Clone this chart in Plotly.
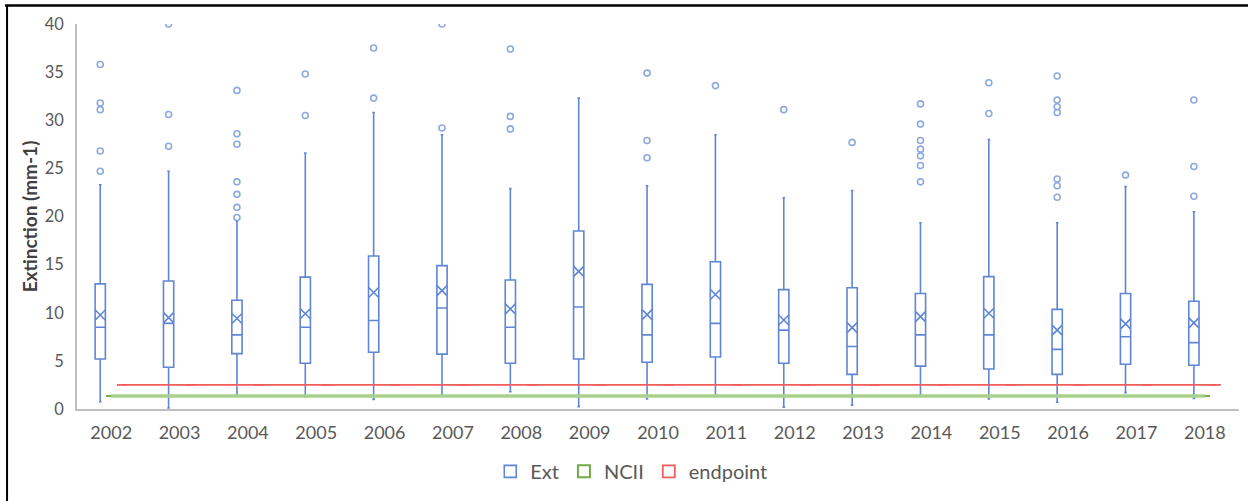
import plotly.graph_objects as go

years = [2002, 2003, 2004, 2005, 2006, 2007, 2008, 2009, 2010,
         2011, 2012, 2013, 2014, 2015, 2016, 2017, 2018]
q1 = [5.2, 4.33, 5.75, 4.75, 5.9, 5.7, 4.75, 5.2, 4.85,
      5.4, 4.75, 3.6, 4.45, 4.15, 3.6, 4.65, 4.55]
median = [8.5, 8.9, 7.7, 8.5, 9.2, 10.5, 8.5, 10.6, 7.7,
          8.9, 8.2, 6.5, 7.7, 7.7, 6.2, 7.5, 6.9]
q3 = [13.0, 13.3, 11.3, 13.7, 15.9, 14.9, 13.4, 18.5, 12.95,
      15.3, 12.4, 12.6, 12.0, 13.75, 10.35, 12.0, 11.2]
lower = [0.76, 0.1, 1.45, 1.28, 1.0, 1.45, 1.8, 0.25, 1.04,
         1.38, 0.2, 0.4, 1.45, 1.04, 0.7, 1.7, 1.1]
upper = [23.3, 24.7, 19.5, 26.6, 30.8, 28.5, 22.9, 32.3, 23.2,
         28.5, 21.95, 22.7, 19.35, 28.0, 19.35, 23.1, 20.5]
mean = [9.77, 9.5, 9.4, 9.9, 12.1, 12.3, 10.4, 14.3, 9.8,
        11.9, 9.25, 8.45, 9.6, 9.95, 8.2, 8.85, 8.95]
outliers = [
    [35.8, 31.8, 31.1, 26.8, 24.7],
    [40.0, 30.6, 27.3],
    [33.1, 28.6, 27.5, 23.6, 22.3, 20.95, 19.9],
    [34.8, 30.5],
    [37.5, 32.3],
    [40.0, 29.2],
    [37.4, 30.4, 29.1],
    [],
    [34.9, 27.9, 26.1],
    [33.6],
    [31.1],
    [27.7],
    [31.7, 29.6, 27.9, 27.0, 26.3, 25.3, 23.6],
    [33.9, 30.7],
    [34.6, 32.1, 31.4, 30.8, 23.9, 23.2, 22.0],
    [24.3],
    [32.1, 25.2, 22.1],
]
ncii = [1.35, 1.35, 1.35, 1.35, 1.35, 1.35, 1.35, 1.35, 1.35,
        1.35, 1.35, 1.35, 1.35, 1.35, 1.35, 1.35, 1.35]
endpoint = [2.5, 2.5, 2.5, 2.5, 2.5, 2.5, 2.5, 2.5, 2.5,
            2.5, 2.5, 2.5, 2.5, 2.5, 2.5, 2.5, 2.5]

BLUE = "#5F86D4"
BLUE_PT = "#8EA9DE"
GREEN = "#70AD47"
GREEN_L = "#A9D18E"
RED = "#F25C5C"
GRAY = "#595959"
FONT = "Lato"

off = 0.16
x_ext = [y - off for y in years]
x_ncii = [y for y in years]
x_end = [y + off for y in years]

fig = go.Figure()

fig.add_trace(go.Box(
    name="Ext", x=x_ext, q1=q1, median=median, q3=q3,
    lowerfence=lower, upperfence=upper, boxpoints=False,
    width=0.15, whiskerwidth=0.25,
    line=dict(color=BLUE, width=1.6), fillcolor="rgba(255,255,255,0)",
    showlegend=True,
))

# NCII connecting line + flat boxes
fig.add_trace(go.Scatter(
    x=x_ncii, y=ncii, mode="lines", line=dict(color=GREEN_L, width=3.5),
    showlegend=False, hoverinfo="skip",
))
fig.add_trace(go.Box(
    name="NCII", x=x_ncii, q1=ncii, median=ncii, q3=ncii,
    lowerfence=ncii, upperfence=ncii, boxpoints=False,
    width=0.15, whiskerwidth=0,
    line=dict(color=GREEN, width=2), fillcolor="rgba(255,255,255,0)",
))

# endpoint connecting line + flat boxes
fig.add_trace(go.Scatter(
    x=x_end, y=endpoint, mode="lines", line=dict(color=RED, width=1.8),
    showlegend=False, hoverinfo="skip",
))
fig.add_trace(go.Box(
    name="endpoint", x=x_end, q1=endpoint, median=endpoint, q3=endpoint,
    lowerfence=endpoint, upperfence=endpoint, boxpoints=False,
    width=0.15, whiskerwidth=0,
    line=dict(color=RED, width=1.8), fillcolor="rgba(255,255,255,0)",
))

# mean markers
fig.add_trace(go.Scatter(
    x=x_ext, y=mean, mode="markers",
    marker=dict(symbol="x-thin-open", size=10, color=BLUE,
                line=dict(color=BLUE, width=1.6)),
    showlegend=False, hoverinfo="skip",
))

# outliers
ox, oy = [], []
for xe, pts in zip(x_ext, outliers):
    for p in pts:
        ox.append(xe)
        oy.append(p)
fig.add_trace(go.Scatter(
    x=ox, y=oy, mode="markers",
    marker=dict(symbol="circle-open", size=6, color=BLUE_PT,
                line=dict(color=BLUE_PT, width=1.6)),
    showlegend=False, hoverinfo="skip",
))

fig.update_layout(
    width=1248, height=501,
    margin=dict(l=77, r=9, t=24, b=92),
    paper_bgcolor="white", plot_bgcolor="white",
    font=dict(family=FONT, size=18, color=GRAY),
    boxmode="overlay",
    legend=dict(
        orientation="h", x=0.477, xanchor="center", y=-0.162, yanchor="middle",
        font=dict(family=FONT, size=20, color=GRAY),
        itemwidth=30, tracegroupgap=0,
    ),
    shapes=[
        dict(type="line", xref="paper", yref="paper",
             x0=-0.062, x1=1.01, y0=1.048, y1=1.048,
             line=dict(color="black", width=2.5)),
        dict(type="line", xref="paper", yref="paper",
             x0=-0.0602, x1=-0.0602, y0=1.048, y1=-0.26,
             line=dict(color="black", width=2)),
    ],
)

fig.update_xaxes(
    range=[2001.5, 2018.5], tickmode="array", tickvals=years,
    ticktext=[str(y) for y in years], showgrid=False, zeroline=False,
    showline=True, linecolor="#BFBFBF", linewidth=1.5, ticks="",
    ticklabelstandoff=7, tickfont=dict(size=18, color=GRAY),
    automargin=False,
)
fig.update_yaxes(
    range=[0, 40], dtick=5, showgrid=False, zeroline=False,
    showline=True, linecolor="#BFBFBF", linewidth=1.5, ticks="",
    ticklabelstandoff=8, tickfont=dict(size=16.5, color=GRAY),
    automargin=False,
    title=dict(text="Extinction (mm-1)", standoff=2,
               font=dict(family=FONT, size=19, color="#404040", weight="bold")),
)

fig.write_html("out.html")
